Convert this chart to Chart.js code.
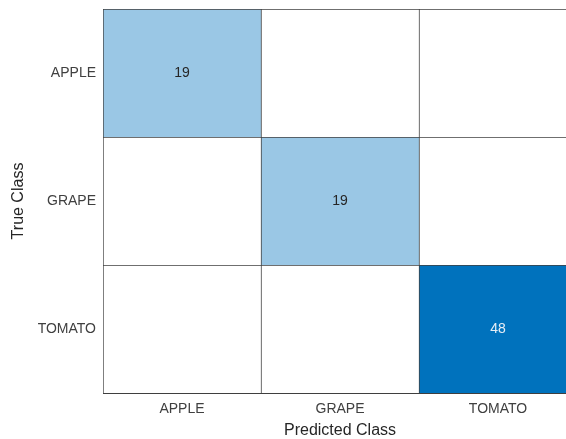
<!DOCTYPE html>
<html>
<head>
<meta charset="utf-8">
<script src="https://cdn.jsdelivr.net/npm/chart.js@4"></script>
<style>
  html, body { margin: 0; padding: 0; background: #fff; overflow: hidden; }
  #wrap { width: 578px; height: 439px; position: relative; }
</style>
</head>
<body>
<div id="wrap"><canvas id="c"></canvas></div>
<script>
// Data
const predictedClasses = ['APPLE', 'GRAPE', 'TOMATO'];
const trueClasses = ['APPLE', 'GRAPE', 'TOMATO'];
const countsApple = [19, 0, 0];
const countsGrape = [0, 19, 0];
const countsTomato = [0, 0, 48];
const counts = [countsApple, countsGrape, countsTomato];

const maxCount = Math.max(...counts.flat());
function cellColor(v) {
  const t = v / maxCount;
  const r = Math.round(255 + t * (0 - 255));
  const g = Math.round(255 + t * (114 - 255));
  const b = Math.round(255 + t * (189 - 255));
  return `rgb(${r},${g},${b})`;
}

const lineColor = '#3f3f3f';

const datasets = trueClasses.map((cls, i) => ({
  label: cls,
  data: predictedClasses.map(() => [i, i + 1]),
  backgroundColor: counts[i].map(cellColor),
  borderColor: lineColor,
  borderWidth: { top: 1, left: 1, right: 0, bottom: 0 },
  borderSkipped: false,
  grouped: false,
  barPercentage: 1,
  categoryPercentage: 1
}));

const cellText = {
  id: 'cellText',
  afterDatasetsDraw(chart) {
    const ctx = chart.ctx;
    ctx.save();
    ctx.font = '14px "Liberation Sans", Arial, sans-serif';
    ctx.textAlign = 'center';
    ctx.textBaseline = 'middle';
    chart.data.datasets.forEach((ds, i) => {
      const meta = chart.getDatasetMeta(i);
      meta.data.forEach((bar, j) => {
        const v = counts[i][j];
        if (v > 0) {
          const p = bar.getCenterPoint();
          ctx.fillStyle = (v / maxCount > 0.5) ? '#e6eef6' : '#262626';
          ctx.fillText(String(v), p.x, p.y);
        }
      });
    });
    ctx.restore();
  }
};

new Chart(document.getElementById('c'), {
  type: 'bar',
  data: { labels: predictedClasses, datasets },
  plugins: [cellText],
  options: {
    responsive: true,
    maintainAspectRatio: false,
    animation: false,
    events: [],
    layout: { padding: { top: 9, right: 1, left: 0, bottom: 0 } },
    plugins: { legend: { display: false }, tooltip: { enabled: false } },
    scales: {
      x: {
        type: 'category',
        offset: true,
        grid: { display: false, drawTicks: false },
        border: { display: true, color: lineColor, width: 1 },
        ticks: {
          padding: 8,
          color: '#404040',
          font: { family: '"Liberation Sans", Arial, sans-serif', size: 14 }
        },
        title: {
          display: true,
          text: 'Predicted Class',
          color: '#262626',
          padding: { top: 0, bottom: 0 },
          font: { family: '"Liberation Sans", Arial, sans-serif', size: 16, lineHeight: 1 }
        },
        afterFit(s) { s.height = 46; s.paddingLeft = 0; s.paddingRight = 0; }
      },
      y: {
        type: 'linear',
        min: 0,
        max: 3,
        reverse: true,
        grid: { display: false, drawTicks: false },
        border: { display: false },
        afterBuildTicks(axis) {
          axis.ticks = trueClasses.map((_, i) => ({ value: i + 0.5 }));
        },
        ticks: {
          padding: 7,
          color: '#404040',
          font: { family: '"Liberation Sans", Arial, sans-serif', size: 14 },
          callback: (v) => trueClasses[Math.floor(v)]
        },
        title: {
          display: true,
          text: 'True Class',
          color: '#262626',
          padding: { top: 9, bottom: 0 },
          font: { family: '"Liberation Sans", Arial, sans-serif', size: 16, lineHeight: 1.2 }
        },
        afterFit(s) { s.width = 103; s.paddingTop = 0; s.paddingBottom = 0; }
      }
    }
  }
});
</script>
</body>
</html>
